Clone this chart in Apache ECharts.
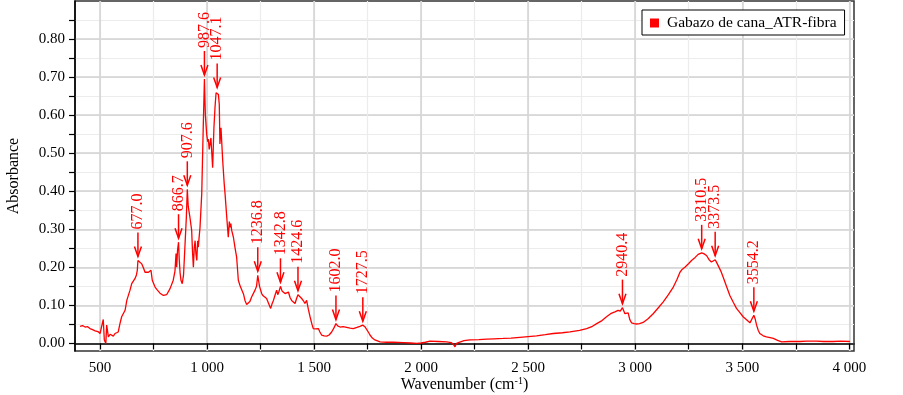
<!DOCTYPE html>
<html>
<head>
<meta charset="utf-8">
<script src="https://cdn.jsdelivr.net/npm/echarts@6/dist/echarts.min.js"></script>
<style>
html, body { margin: 0; padding: 0; background: #fff; }
#chart { width: 903px; height: 395px; }
</style>
</head>
<body>
<div id="chart"></div>
<script>
// spectrum
var wavenumber = [406.6, 418, 430, 442, 453, 465, 477, 490, 500, 508, 515, 520, 527, 531, 539, 547, 555, 562, 570, 578,
    585, 593, 601, 610, 617, 625, 633, 640, 648, 656, 663, 670, 674, 677, 683, 695, 703, 710, 726, 738,
    744, 757, 768, 780, 796, 811, 827, 842, 850, 855, 858, 862, 866.7, 870, 874, 878, 884, 890, 897, 903,
    907.6, 912, 920, 928, 932, 936, 940, 944, 948, 952, 956, 959, 963, 967, 975, 982, 987.6, 992, 998, 1003,
    1006, 1010, 1014, 1018, 1022, 1026, 1032, 1037, 1042, 1047.1, 1053, 1057, 1060, 1065, 1073, 1080, 1084, 1092, 1099, 1104,
    1107, 1111, 1115, 1123, 1131, 1138, 1146, 1155, 1162, 1170, 1177, 1185, 1193, 1200, 1208, 1215, 1224, 1231, 1236.8, 1245,
    1255, 1262, 1271, 1278, 1286, 1297, 1304, 1310, 1318, 1325, 1330, 1335, 1342.8, 1350, 1356, 1364, 1372, 1380, 1388, 1395,
    1403, 1411, 1418, 1424.6, 1432, 1442, 1450, 1457, 1465, 1473, 1481, 1490, 1496, 1508, 1520, 1527, 1535, 1547, 1559, 1570,
    1582, 1592, 1602, 1610, 1621, 1635, 1652, 1668, 1683, 1700, 1714, 1727.5, 1737, 1745, 1753, 1761, 1772, 1784, 1808, 1839,
    1870, 1917, 1950, 1979, 2000, 2020, 2041, 2080, 2119, 2140, 2150, 2158, 2165, 2173, 2200, 2228, 2270, 2306, 2340, 2383,
    2420, 2461, 2500, 2539, 2580, 2617, 2660, 2695, 2740, 2773, 2800, 2820, 2845, 2866, 2885, 2905, 2920, 2930, 2940.4, 2948,
    2952, 2960, 2967, 2975, 2983, 2995, 3006, 3020, 3037, 3060, 3084, 3110, 3131, 3155, 3178, 3195, 3209, 3220, 3232, 3250,
    3263, 3280, 3294, 3310.5, 3320, 3333, 3345, 3356, 3365, 3373.5, 3380, 3387, 3400, 3411, 3425, 3442, 3458, 3473, 3490, 3504,
    3520, 3536, 3545, 3554.2, 3560, 3567, 3575, 3582, 3598, 3613, 3630, 3645, 3665, 3684, 3720, 3769, 3800, 3847, 3880, 3925,
    3960, 4003];
var absorbance = [0.045, 0.047, 0.043, 0.044, 0.039, 0.036, 0.033, 0.031, 0.026, 0.030, 0.063, 0.009, 0.000, 0.048, 0.017, 0.024, 0.022, 0.019, 0.026, 0.022,
    0.030, 0.052, 0.070, 0.066, 0.087, 0.113, 0.118, 0.140, 0.157, 0.160, 0.170, 0.180, 0.192, 0.218, 0.213, 0.209, 0.198, 0.187, 0.187, 0.192,
    0.166, 0.148, 0.140, 0.132, 0.126, 0.128, 0.144, 0.166, 0.190, 0.236, 0.200, 0.245, 0.266, 0.220, 0.185, 0.166, 0.157, 0.180, 0.260, 0.330,
    0.405, 0.360, 0.331, 0.297, 0.240, 0.200, 0.250, 0.270, 0.235, 0.218, 0.270, 0.253, 0.280, 0.305, 0.393, 0.567, 0.695, 0.600, 0.550, 0.530,
    0.537, 0.510, 0.506, 0.540, 0.500, 0.462, 0.567, 0.620, 0.659, 0.662, 0.654, 0.628, 0.524, 0.567, 0.480, 0.420, 0.393, 0.331, 0.279, 0.320,
    0.305, 0.315, 0.297, 0.279, 0.250, 0.227, 0.166, 0.150, 0.148, 0.130, 0.113, 0.102, 0.100, 0.110, 0.122, 0.118, 0.140, 0.150, 0.179, 0.150,
    0.131, 0.125, 0.122, 0.118, 0.113, 0.092, 0.105, 0.113, 0.128, 0.140, 0.128, 0.135, 0.150, 0.138, 0.142, 0.131, 0.128, 0.135, 0.120, 0.113,
    0.110, 0.105, 0.118, 0.128, 0.125, 0.118, 0.112, 0.105, 0.113, 0.090, 0.070, 0.050, 0.039, 0.038, 0.039, 0.030, 0.022, 0.020, 0.019, 0.022,
    0.030, 0.040, 0.052, 0.046, 0.043, 0.044, 0.042, 0.040, 0.039, 0.042, 0.045, 0.048, 0.044, 0.039, 0.030, 0.022, 0.014, 0.009, 0.004, 0.003,
    0.003, 0.002, 0.001, 0.000, 0.001, 0.003, 0.006, 0.005, 0.004, 0.002, -0.002, -0.009, 0.000, 0.004, 0.007, 0.009, 0.010, 0.011, 0.012, 0.013,
    0.014, 0.016, 0.018, 0.020, 0.023, 0.026, 0.028, 0.030, 0.034, 0.039, 0.045, 0.052, 0.060, 0.070, 0.078, 0.083, 0.087, 0.085, 0.094, 0.090,
    0.078, 0.075, 0.080, 0.062, 0.054, 0.052, 0.051, 0.052, 0.055, 0.065, 0.078, 0.095, 0.109, 0.128, 0.148, 0.168, 0.187, 0.195, 0.200, 0.210,
    0.218, 0.226, 0.234, 0.238, 0.236, 0.231, 0.220, 0.214, 0.218, 0.220, 0.213, 0.205, 0.190, 0.174, 0.152, 0.126, 0.108, 0.092, 0.080, 0.070,
    0.062, 0.054, 0.056, 0.074, 0.065, 0.048, 0.034, 0.026, 0.020, 0.017, 0.015, 0.013, 0.008, 0.004, 0.005, 0.005, 0.006, 0.006, 0.005, 0.005,
    0.006, 0.005];

// annotated peaks
var peakLabels = ['677.0', '866.7', '907.6', '987.6', '1047.1', '1236.8', '1342.8', '1424.6', '1602.0', '1727.5', '2940.4', '3310.5', '3373.5', '3554.2'];
var peakX = [677.0, 866.7, 907.6, 987.6, 1047.1, 1236.8, 1342.8, 1424.6, 1602.0, 1727.5, 2940.4, 3310.5, 3373.5, 3554.2];
var peakY = [0.218, 0.266, 0.405, 0.695, 0.662, 0.179, 0.150, 0.128, 0.052, 0.048, 0.094, 0.238, 0.220, 0.074];

var xMajorTicks = [500, 1000, 1500, 2000, 2500, 3000, 3500, 4000];
var xAllTicks = [500, 750, 1000, 1250, 1500, 1750, 2000, 2250, 2500, 2750, 3000, 3250, 3500, 3750, 4000];
var yMajorTicks = [0, 0.1, 0.2, 0.3, 0.4, 0.5, 0.6, 0.7, 0.8];
var yAllTicks = [0, 0.05, 0.1, 0.15, 0.2, 0.25, 0.3, 0.35, 0.4, 0.45, 0.5, 0.55, 0.6, 0.65, 0.7, 0.75, 0.8, 0.85];

var seriesName = 'Gabazo de cana_ATR-fibra';
var serif = '"Liberation Serif", "Times New Roman", serif';
var red = '#ff0000';

var spectrum = [];
for (var i = 0; i < wavenumber.length; i++) spectrum.push([wavenumber[i], absorbance[i]]);
var peaks = [];
for (var j = 0; j < peakX.length; j++) peaks.push([peakX[j], peakY[j]]);

function thousands(v) {
    if (v >= 1000) {
        var s = String(v);
        return s.slice(0, s.length - 3) + ' ' + s.slice(-3);
    }
    return String(v);
}

function renderPeak(params, api) {
    var pt = api.coord([api.value(0), api.value(1)]);
    var x = pt[0];
    var tip = pt[1] - 4;
    var top = tip - 24;
    return {
        type: 'group',
        children: [
            { type: 'line', shape: { x1: x, y1: top, x2: x, y2: tip }, style: { stroke: red, lineWidth: 1.5 } },
            { type: 'polyline', shape: { points: [[x - 3.5, tip - 10], [x, tip], [x + 3.5, tip - 10]] },
              style: { stroke: red, lineWidth: 1.5, fill: null } },
            { type: 'text', x: x, y: top - 3, rotation: Math.PI / 2,
              style: { text: peakLabels[params.dataIndex], fill: red, font: '16px ' + serif, align: 'left', verticalAlign: 'middle' } }
        ]
    };
}

var xMin = 383, xMax = 4022, yMin = -0.02, yMax = 0.9;

var option = {
    animation: false,
    backgroundColor: '#fff',
    grid: { left: 75, right: 49, top: 1, bottom: 44, show: true, borderColor: '#333', borderWidth: 1.5, outerBoundsMode: 'none' },
    legend: {
        data: [seriesName],
        left: 642, top: 10,
        icon: 'rect', itemWidth: 9, itemHeight: 9,
        padding: [5, 8, 4, 8],
        borderColor: '#000', borderWidth: 1, backgroundColor: '#fff',
        textStyle: { fontFamily: serif, fontSize: 15.5, color: '#000', padding: [0, 0, 0, 3] }
    },
    xAxis: [{
        type: 'value', min: xMin, max: xMax, position: 'bottom',
        name: '{a|Wavenumber (cm}{s|-1}{a|)}',
        nameLocation: 'middle', nameGap: 25, nameMoveOverlap: false,
        nameTextStyle: {
            rich: {
                a: { fontFamily: serif, fontSize: 16, color: '#000', lineHeight: 18 },
                s: { fontFamily: serif, fontSize: 10, color: '#000', lineHeight: 18, verticalAlign: 'top' }
            }
        },
        axisLine: { lineStyle: { color: '#000', width: 1.5 } },
        axisTick: { customValues: xAllTicks, length: 6, lineStyle: { color: '#000', width: 1.2 } },
        axisLabel: { customValues: xMajorTicks, formatter: thousands, fontFamily: serif, fontSize: 15, color: '#000', margin: 10 },
        splitLine: { show: true, lineStyle: { color: '#ececec', width: 1.2 } }
    }, {
        type: 'value', min: xMin, max: xMax, position: 'top',
        axisLine: { show: false }, axisLabel: { show: false },
        axisTick: { show: false, customValues: xMajorTicks },
        splitLine: { show: true, lineStyle: { color: '#d2d2d2', width: 1.5 } }
    }],
    yAxis: [{
        type: 'value', min: yMin, max: yMax, position: 'left',
        name: 'Absorbance', nameLocation: 'middle', nameGap: 53, nameMoveOverlap: false,
        nameTextStyle: { fontFamily: serif, fontSize: 16, color: '#000' },
        axisLine: { show: true, lineStyle: { color: '#000', width: 1.5 } },
        axisTick: { show: true, customValues: yAllTicks, length: 6, lineStyle: { color: '#000', width: 1.2 } },
        axisLabel: { customValues: yMajorTicks, formatter: function (v) { return v.toFixed(2); },
                     fontFamily: serif, fontSize: 15, color: '#000', margin: 10 },
        splitLine: { show: true, lineStyle: { color: '#ececec', width: 1.2 } }
    }, {
        type: 'value', min: yMin, max: yMax, position: 'right',
        axisLine: { show: false }, axisLabel: { show: false },
        axisTick: { show: false, customValues: yMajorTicks },
        splitLine: { show: true, lineStyle: { color: '#d2d2d2', width: 1.5 } }
    }],
    series: [{
        name: seriesName,
        type: 'line',
        data: spectrum,
        showSymbol: false,
        symbol: 'none',
        itemStyle: { color: red },
        lineStyle: { color: red, width: 1.3 },
        z: 3
    }, {
        name: 'peaks',
        type: 'custom',
        data: peaks,
        renderItem: renderPeak,
        encode: { x: 0, y: 1 },
        clip: false,
        silent: true,
        z: 4
    }]
};

var myChart = echarts.init(document.getElementById('chart'));
myChart.setOption(option);
</script>
</body>
</html>
